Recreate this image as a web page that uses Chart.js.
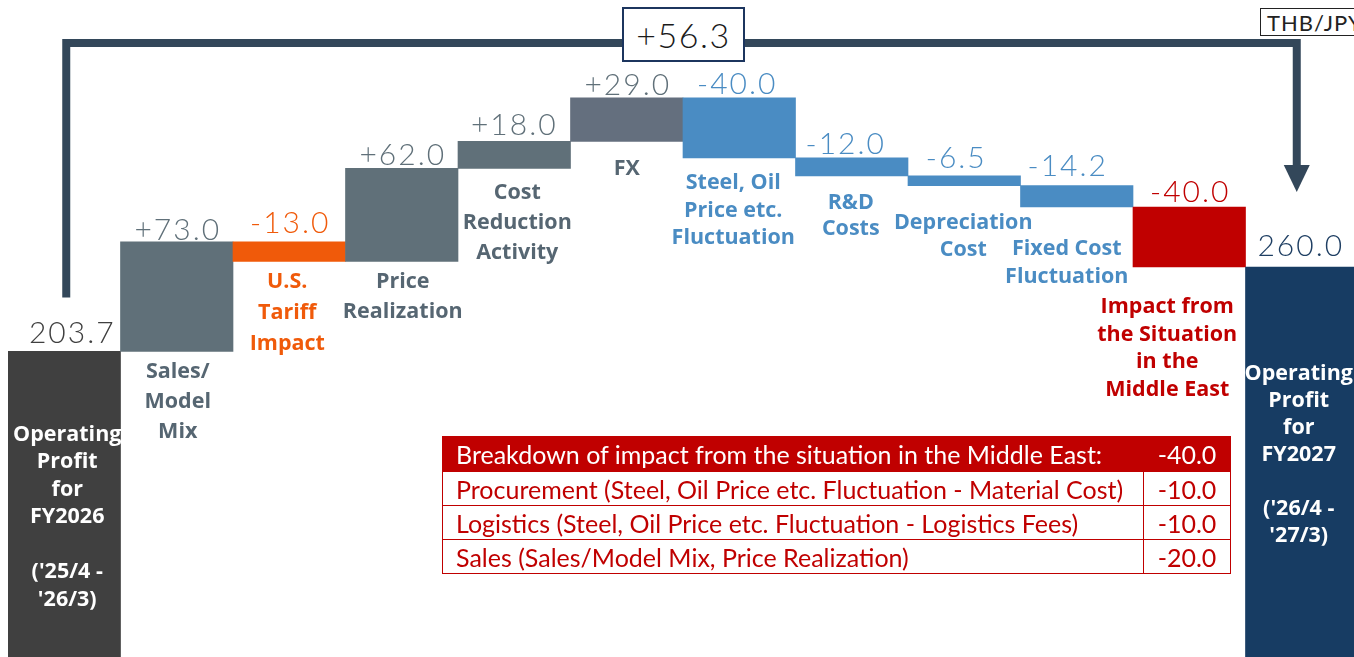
<!DOCTYPE html>
<html>
<head>
<meta charset="utf-8">
<script src="https://cdn.jsdelivr.net/npm/chart.js"></script>
<style>
  html, body { margin: 0; padding: 0; background: #fff; overflow: hidden; }
  #wrap { position: relative; width: 1354px; height: 657px; overflow: hidden; }
  #chart { position: absolute; left: 0; top: 0; }
  .diff-box {
    position: absolute; left: 622px; top: 7px; width: 119px; height: 51px;
    background: #fff; border: 2px solid #1c355e;
    font: 300 34px Lato, sans-serif; color: #1a1a1a; letter-spacing: 1.5px;
    display: flex; align-items: center; justify-content: center;
  }
  .unit-box {
    position: absolute; left: 1260px; top: 8px; width: 110px; height: 26px;
    border: 1.5px solid #222; background: #fff;
    font: 22px Lato, sans-serif; color: #222; line-height: 27px; padding-left: 6px;
    letter-spacing: 1px; white-space: nowrap;
  }
  table.breakdown {
    position: absolute; left: 442px; top: 436px; width: 789px;
    border-collapse: collapse; font: 25px Lato, sans-serif; color: #c00000;
  }
  table.breakdown td { border: 1.5px solid #c00000; padding: 0 0 0 13px; height: 33px; line-height: 30px; white-space: nowrap; }
  table.breakdown td.num { width: 86px; padding: 0; text-align: center; }
  table.breakdown tr.head td { background: #c00000; color: #fff; height: 34px; }
</style>
</head>
<body>
<div id="wrap">
  <canvas id="chart" width="1358" height="657"></canvas>
  <div class="diff-box" id="diffBox"></div>
  <div class="unit-box">THB/JPY</div>
  <table class="breakdown" id="breakdown"></table>
</div>
<script>
// categories (one entry per bar, split into the lines shown on the slide)
var categories = [
  ['Operating', 'Profit', 'for', 'FY2026', '', "('25/4 -", "'26/3)"],
  ['Sales/', 'Model', 'Mix'],
  ['U.S.', 'Tariff', 'Impact'],
  ['Price', 'Realization'],
  ['Cost', 'Reduction', 'Activity'],
  ['FX'],
  ['Steel, Oil', 'Price etc.', 'Fluctuation'],
  ['R&D', 'Costs'],
  ['Depreciation', 'Cost'],
  ['Fixed Cost', 'Fluctuation'],
  ['Impact from', 'the Situation', 'in the', 'Middle East'],
  ['Operating', 'Profit', 'for', 'FY2027', '', "('26/4 -", "'27/3)"]
];

// step values: first and last are totals, the rest are changes
var stepValues = [203.7, 73.0, -13.0, 62.0, 18.0, 29.0, -40.0, -12.0, -6.5, -14.2, -40.0, 260.0];
var isTotal = [true, false, false, false, false, false, false, false, false, false, false, true];

// breakdown table
var breakdownLabels = [
  'Breakdown of impact from the situation in the Middle East:',
  'Procurement (Steel, Oil Price etc. Fluctuation - Material Cost)',
  'Logistics (Steel, Oil Price etc. Fluctuation - Logistics Fees)',
  'Sales (Sales/Model Mix, Price Realization)'
];
var breakdownValues = [-40.0, -10.0, -10.0, -20.0];

// colours
var barColors = ['#404040', '#607079', '#f05a0a', '#607079', '#607079', '#646f7e',
  '#4a8cc3', '#4a8cc3', '#4a8cc3', '#4a8cc3', '#c00000', '#173c63'];
var valueColors = ['#404040', '#607079', '#f05a0a', '#607079', '#607079', '#607079',
  '#4a8cc3', '#4a8cc3', '#4a8cc3', '#4a8cc3', '#c00000', '#1f3f63'];
var labelColors = ['#ffffff', '#566672', '#f05a0a', '#566672', '#566672', '#566672',
  '#4a8cc3', '#4a8cc3', '#4a8cc3', '#4a8cc3', '#c00000', '#ffffff'];

// label placement tweaks (pixels)
var valueDx = [7, 0, 0, 0, -1, 0, -3, -7, -9, -10, 0, -2];
var valueDy = [18, 12, 19, 13, 16, 13, 14, 14, 18, 19, 15, 21];
var labelDx = [3, 1, -2, 1, 3, 0, -6, -1, -1, -10, -22, -3];
var labelDy = [83, 20, 20, 20, 24, 27, 25, 27, 37, 42, 40, 107];
var labelLh = [27.5, 30, 31, 30, 30, 30, 27.5, 26, 27, 28, 27.5, 27];

// build floating bars
var bars = [];
var running = 0;
for (var i = 0; i < stepValues.length; i++) {
  if (isTotal[i]) {
    bars.push([0, stepValues[i]]);
    running = stepValues[i];
  } else {
    bars.push([running, running + stepValues[i]]);
    running += stepValues[i];
  }
}

function fmt(v, i) {
  if (isTotal[i]) return v.toFixed(1);
  return (v > 0 ? '+' : '') + v.toFixed(1);
}

document.getElementById('diffBox').textContent =
  '+' + (stepValues[stepValues.length - 1] - stepValues[0]).toFixed(1);

var tbl = document.getElementById('breakdown');
breakdownLabels.forEach(function (lbl, i) {
  var tr = document.createElement('tr');
  if (i === 0) tr.className = 'head';
  var td1 = document.createElement('td');
  td1.textContent = lbl;
  var td2 = document.createElement('td');
  td2.className = 'num';
  td2.textContent = breakdownValues[i].toFixed(1);
  tr.appendChild(td1);
  tr.appendChild(td2);
  tbl.appendChild(tr);
});

var labelsPlugin = {
  id: 'waterfallLabels',
  afterDatasetsDraw: function (chart) {
    var ctx = chart.ctx;
    var meta = chart.getDatasetMeta(0);

    // bracket with arrow
    var xL = meta.data[0].x + 2;
    var xR = meta.data[meta.data.length - 1].x - 5;
    var yStart = meta.data[0].y - 54;
    var yTip = meta.data[meta.data.length - 1].y - 75;
    ctx.save();
    ctx.strokeStyle = '#33475a';
    ctx.fillStyle = '#33475a';
    ctx.lineWidth = 8;
    ctx.lineJoin = 'miter';
    ctx.beginPath();
    ctx.moveTo(xL, yStart);
    ctx.lineTo(xL, 43);
    ctx.lineTo(xR, 43);
    ctx.lineTo(xR, yTip - 25);
    ctx.stroke();
    ctx.beginPath();
    ctx.moveTo(xR - 13, yTip - 27);
    ctx.lineTo(xR + 13, yTip - 27);
    ctx.lineTo(xR, yTip);
    ctx.closePath();
    ctx.fill();
    ctx.restore();

    meta.data.forEach(function (bar, i) {
      var top = Math.min(bar.y, bar.base);
      var bottom = Math.max(bar.y, bar.base);
      ctx.save();
      ctx.textAlign = 'center';
      ctx.textBaseline = 'middle';

      // value label
      ctx.font = '300 30px Lato, sans-serif';
      ctx.letterSpacing = '2px';
      ctx.fillStyle = valueColors[i];
      ctx.fillText(fmt(stepValues[i], i), bar.x + valueDx[i] + 1, top - valueDy[i]);

      // category label
      ctx.font = 'bold 21.5px "Open Sans", sans-serif';
      ctx.letterSpacing = '0px';
      ctx.fillStyle = labelColors[i];
      var y0 = isTotal[i] ? top + labelDy[i] : bottom + labelDy[i];
      categories[i].forEach(function (line, k) {
        ctx.fillText(line, bar.x + labelDx[i], y0 + k * labelLh[i]);
      });
      ctx.restore();
    });
  }
};

new Chart(document.getElementById('chart'), {
  type: 'bar',
  data: {
    labels: categories,
    datasets: [{
      data: bars,
      backgroundColor: barColors,
      borderWidth: 0,
      barPercentage: 1,
      categoryPercentage: 1
    }]
  },
  options: {
    responsive: false,
    animation: false,
    layout: { padding: { left: 8, right: 0, top: 0, bottom: 0 } },
    plugins: { legend: { display: false }, tooltip: { enabled: false } },
    scales: {
      x: { display: false },
      y: { display: false, min: 0, max: 438 }
    }
  },
  plugins: [labelsPlugin]
});
</script>
</body>
</html>
